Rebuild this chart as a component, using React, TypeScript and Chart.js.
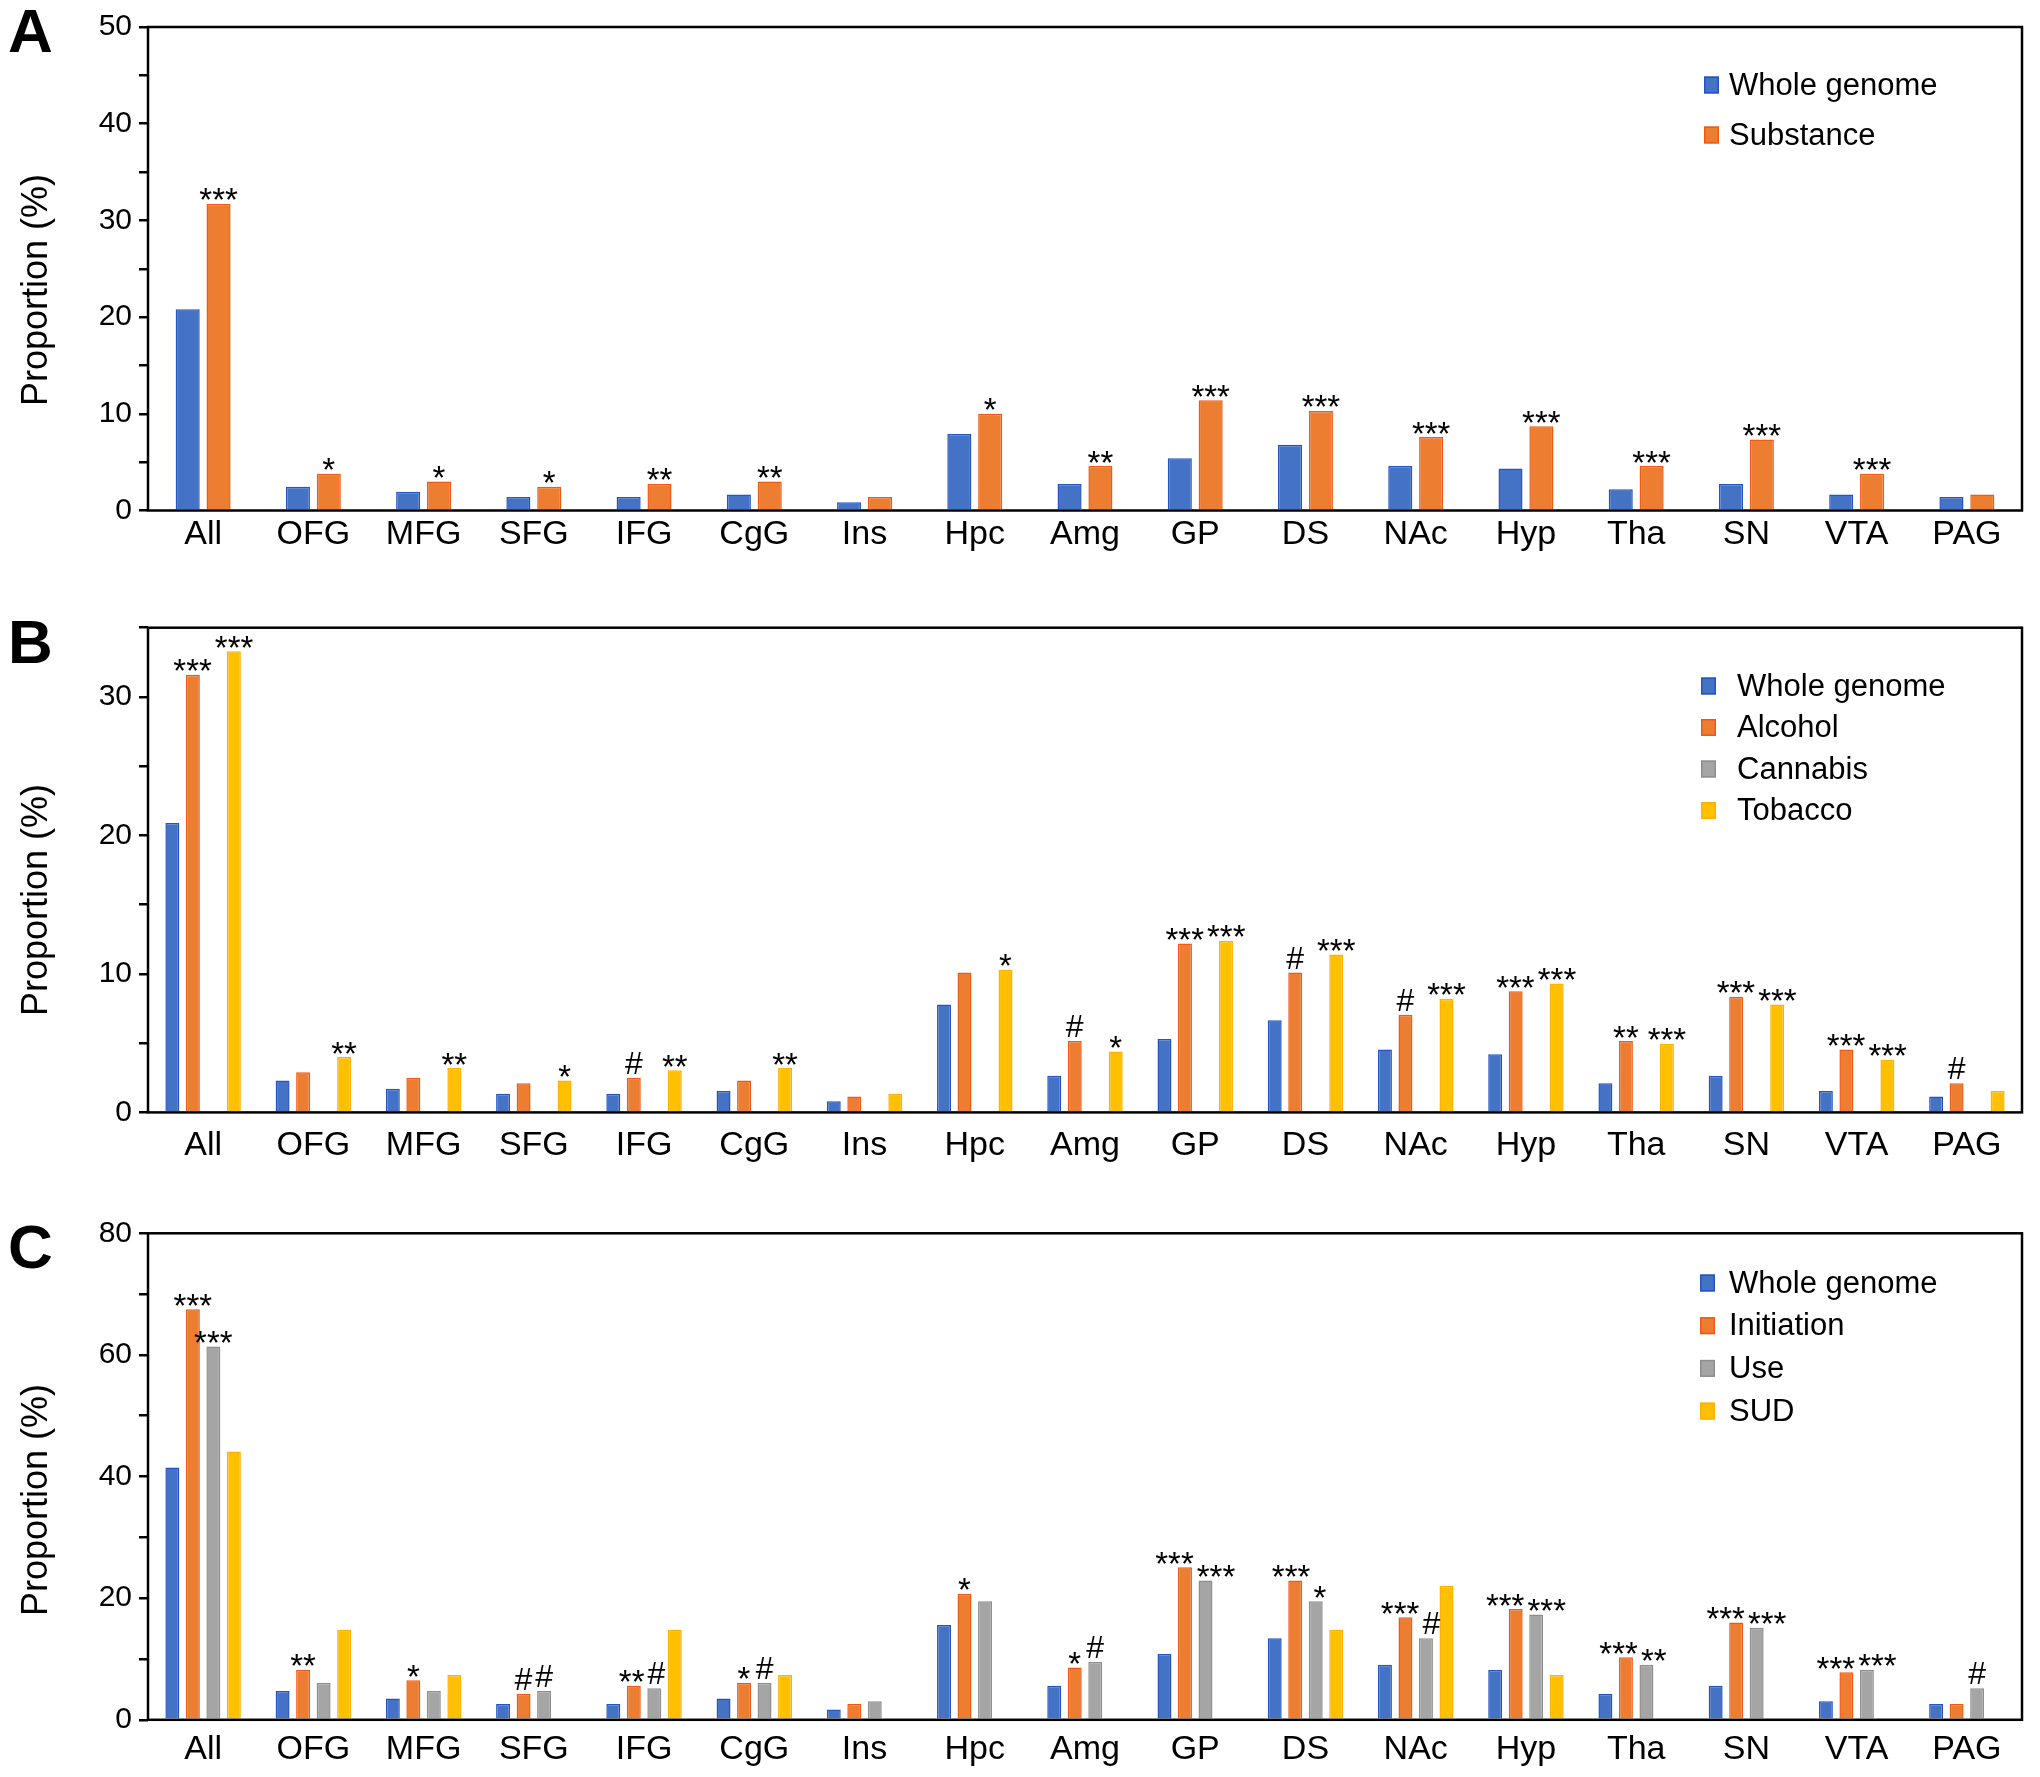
import React, { useEffect, useRef } from 'react';
import { Chart, registerables } from 'chart.js';

Chart.register(...registerables);

const FONT = '"Liberation Sans", Arial, Helvetica, sans-serif';

// ---------- shared categories ----------
const regions = ['All', 'OFG', 'MFG', 'SFG', 'IFG', 'CgG', 'Ins', 'Hpc', 'Amg', 'GP', 'DS', 'NAc', 'Hyp', 'Tha', 'SN', 'VTA', 'PAG'];

// ---------- Panel A ----------
const aWholeGenome = [20.8, 2.45, 1.95, 1.4, 1.4, 1.65, 0.85, 7.9, 2.75, 5.4, 6.8, 4.6, 4.35, 2.2, 2.75, 1.65, 1.4];
const aSubstance = [31.7, 3.8, 3.0, 2.45, 2.75, 3.0, 1.4, 10.0, 4.6, 11.4, 10.3, 7.6, 8.7, 4.6, 7.35, 3.8, 1.65];
const aSubstanceSig = ['***', '*', '*', '*', '**', '**', '', '*', '**', '***', '***', '***', '***', '***', '***', '***', ''];
const aYAxis = { max: 50, step: 5, labelEvery: 10 };

// ---------- Panel B ----------
const bWholeGenome = [20.9, 2.3, 1.7, 1.35, 1.35, 1.55, 0.8, 7.8, 2.65, 5.3, 6.65, 4.55, 4.2, 2.1, 2.65, 1.55, 1.15];
const bAlcohol = [31.6, 2.9, 2.5, 2.1, 2.5, 2.3, 1.15, 10.1, 5.15, 12.2, 10.1, 7.05, 8.75, 5.15, 8.35, 4.55, 2.1];
const bCannabis = [null, null, null, null, null, null, null, null, null, null, null, null, null, null, null, null, null];
const bTobacco = [33.3, 4.0, 3.2, 2.3, 3.05, 3.2, 1.35, 10.3, 4.4, 12.4, 11.4, 8.2, 9.3, 4.95, 7.8, 3.8, 1.55];
const bAlcoholSig = ['***', '', '', '', '#', '', '', '', '#', '***', '#', '#', '***', '**', '***', '***', '#'];
const bTobaccoSig = ['***', '**', '**', '*', '**', '**', '', '*', '*', '***', '***', '***', '***', '***', '***', '***', ''];
const bYAxis = { max: 35, step: 5, labelEvery: 10 };

// ---------- Panel C ----------
const cWholeGenome = [41.5, 4.75, 3.5, 2.6, 2.6, 3.5, 1.7, 15.6, 5.6, 10.8, 13.4, 9.05, 8.2, 4.3, 5.6, 3.05, 2.6];
const cInitiation = [67.5, 8.2, 6.5, 4.3, 5.6, 6.1, 2.6, 20.7, 8.6, 25.1, 22.9, 16.85, 18.2, 10.3, 16.0, 7.8, 2.6];
const cUse = [61.4, 6.1, 4.75, 4.75, 5.2, 6.1, 3.05, 19.5, 9.5, 22.9, 19.5, 13.4, 17.3, 9.05, 15.15, 8.2, 5.2];
const cSUD = [44.1, 14.8, 7.35, null, 14.8, 7.35, null, null, null, null, 14.8, 22.0, 7.35, null, null, null, null];
const cInitiationSig = ['***', '**', '*', '#', '**', '*', '', '*', '*', '***', '***', '***', '***', '***', '***', '***', ''];
const cUseSig = ['***', '', '', '#', '#', '#', '', '', '#', '***', '*', '#', '***', '**', '***', '***', '#'];
const cYAxis = { max: 80, step: 10, labelEvery: 20 };

// ---------- colours ----------
const BLUE = { fill: '#4472C4', stroke: '#2454C4' };
const ORANGE = { fill: '#ED7D31', stroke: '#EE5A12' };
const GRAY = { fill: '#A5A5A5', stroke: '#8E8E8E' };
const YELLOW = { fill: '#FFC000', stroke: '#FFB000' };

type Series = { label: string; data: (number | null)[]; sig?: string[]; color: { fill: string; stroke: string } };
type Panel = {
  letter: string;
  top: number;
  height: number;
  padTop: number;
  xAxisH: number;
  labelPad: number;
  yAxis: { max: number; step: number; labelEvery: number };
  series: Series[];
  catPct: number;
  barPct: number;
  legend: { boxX: number; textX: number; y: number; gap: number };
  letterY: number;
  titleY: number;
};

const panels: Panel[] = [
  {
    letter: 'A', top: 0, height: 590, padTop: 27, xAxisH: 590 - 510.5, labelPad: 4,
    yAxis: aYAxis,
    series: [
      { label: 'Whole genome', data: aWholeGenome, color: BLUE },
      { label: 'Substance', data: aSubstance, sig: aSubstanceSig, color: ORANGE },
    ],
    catPct: 0.56, barPct: 0.78,
    legend: { boxX: 1704, textX: 1729, y: 85, gap: 50 },
    letterY: 52, titleY: 290,
  },
  {
    letter: 'B', top: 590, height: 590, padTop: 37.7, xAxisH: 1180 - 1112.4, labelPad: 13,
    yAxis: bYAxis,
    series: [
      { label: 'Whole genome', data: bWholeGenome, color: BLUE },
      { label: 'Alcohol', data: bAlcohol, sig: bAlcoholSig, color: ORANGE },
      { label: 'Cannabis', data: bCannabis, color: GRAY },
      { label: 'Tobacco', data: bTobacco, sig: bTobaccoSig, color: YELLOW },
    ],
    catPct: 0.744, barPct: 0.68,
    legend: { boxX: 1701, textX: 1737, y: 686 - 590, gap: 41.5 },
    letterY: 663 - 590, titleY: 900 - 590,
  },
  {
    letter: 'C', top: 1180, height: 597, padTop: 53.3, xAxisH: 1777 - 1719.8, labelPad: 9,
    yAxis: cYAxis,
    series: [
      { label: 'Whole genome', data: cWholeGenome, color: BLUE },
      { label: 'Initiation', data: cInitiation, sig: cInitiationSig, color: ORANGE },
      { label: 'Use', data: cUse, sig: cUseSig, color: GRAY },
      { label: 'SUD', data: cSUD, color: YELLOW },
    ],
    catPct: 0.744, barPct: 0.68,
    legend: { boxX: 1700, textX: 1729, y: 1283 - 1180, gap: 42.7 },
    letterY: 1268 - 1180, titleY: 1500 - 1180,
  },
];

function sigFont(t: string) {
  return (t.includes('#') ? '32px ' : '33px ') + FONT;
}

function buildChart(canvas: HTMLCanvasElement, p: Panel) {
  const overlay = {
    id: 'overlay' + p.letter,
    afterDatasetsDraw(chart: any) {
      const { ctx, chartArea: ca } = chart;
      ctx.save();
      // frame
      ctx.strokeStyle = '#000';
      ctx.lineWidth = 2.5;
      ctx.strokeRect(ca.left, ca.top, ca.right - ca.left, ca.bottom - ca.top);

      // significance marks: collect, then push apart labels that would collide
      type Item = { t: string; x: number; y: number; w: number; cat: number };
      const items: Item[] = [];
      p.series.forEach((s, di) => {
        if (!s.sig) return;
        const meta = chart.getDatasetMeta(di);
        s.sig.forEach((t, j) => {
          if (!t) return;
          const el = meta.data[j];
          if (!el) return;
          ctx.font = sigFont(t);
          const w = ctx.measureText(t).width;
          items.push({ t, x: el.x, y: el.y, w, cat: j });
        });
      });
      for (let j = 0; j < regions.length; j++) {
        const inCat = items.filter((it) => it.cat === j).sort((a, b) => a.x - b.x);
        for (let k = 0; k + 1 < inCat.length; k++) {
          const L = inCat[k];
          const R = inCat[k + 1];
          if (Math.abs(L.y - R.y) > 24) continue;
          const overlap = L.x + L.w / 2 - (R.x - R.w / 2) + 3;
          if (overlap > 0) {
            L.x -= overlap / 2;
            R.x += overlap / 2;
          }
        }
      }
      ctx.fillStyle = '#000';
      ctx.textAlign = 'center';
      ctx.textBaseline = 'alphabetic';
      items.forEach((it) => {
        const hash = it.t.includes('#');
        ctx.font = sigFont(it.t);
        ctx.fillText(it.t, it.x, it.y + (hash ? -4 : 7.5));
      });

      // legend
      p.series.forEach((s, i) => {
        const cy = p.legend.y + i * p.legend.gap;
        ctx.fillStyle = s.color.fill;
        ctx.fillRect(p.legend.boxX, cy - 8.5, 15, 17);
        ctx.strokeStyle = s.color.stroke;
        ctx.lineWidth = 1.5;
        ctx.strokeRect(p.legend.boxX + 0.75, cy - 7.75, 13.5, 15.5);
        ctx.fillStyle = '#000';
        ctx.font = '31px ' + FONT;
        ctx.textAlign = 'left';
        ctx.textBaseline = 'middle';
        ctx.fillText(s.label, p.legend.textX, cy + 1);
      });

      // panel letter
      ctx.font = 'bold 62px ' + FONT;
      ctx.textAlign = 'left';
      ctx.textBaseline = 'alphabetic';
      ctx.fillStyle = '#000';
      ctx.fillText(p.letter, 8, p.letterY);

      // y title
      ctx.save();
      ctx.translate(37, p.titleY);
      ctx.rotate(-Math.PI / 2);
      ctx.font = '36px ' + FONT;
      ctx.textAlign = 'center';
      ctx.textBaseline = 'middle';
      ctx.fillText('Proportion (%)', 0, 0);
      ctx.restore();

      ctx.restore();
    },
  };

  return new Chart(canvas, {
    type: 'bar',
    data: {
      labels: regions,
      datasets: p.series.map((s) => ({
        label: s.label,
        data: s.data as any,
        backgroundColor: s.color.fill,
        borderColor: s.color.stroke,
        borderWidth: 1.5,
        categoryPercentage: p.catPct,
        barPercentage: p.barPct,
      })),
    },
    options: {
      responsive: false,
      animation: false,
      devicePixelRatio: 1,
      layout: { padding: { top: p.padTop, right: 18, left: 0, bottom: 0 } },
      plugins: {
        legend: { display: false },
        tooltip: { enabled: false },
        title: { display: false },
      },
      scales: {
        x: {
          grid: { display: false, drawTicks: false },
          border: { display: false },
          ticks: {
            color: '#000',
            font: { family: FONT, size: 34 },
            padding: p.labelPad,
            maxRotation: 0,
            autoSkip: false,
          },
          afterFit: (scale: any) => {
            scale.height = p.xAxisH;
          },
        },
        y: {
          min: 0,
          max: p.yAxis.max,
          border: { display: false },
          grid: {
            drawOnChartArea: false,
            drawTicks: true,
            tickLength: 9,
            tickWidth: 2.5,
            tickColor: '#000',
            color: '#000',
            lineWidth: 2.5,
          },
          ticks: {
            stepSize: p.yAxis.step,
            color: '#000',
            font: { family: FONT, size: 30 },
            padding: 7,
            callback: (v: any) => (Number(v) % p.yAxis.labelEvery === 0 ? String(v) : ''),
          },
          afterFit: (scale: any) => {
            scale.width = 148;
          },
        },
      },
    } as any,
    plugins: [overlay],
  });
}

export default function App() {
  const refA = useRef<HTMLCanvasElement>(null);
  const refB = useRef<HTMLCanvasElement>(null);
  const refC = useRef<HTMLCanvasElement>(null);

  useEffect(() => {
    const refs = [refA, refB, refC];
    const charts = panels.map((p, i) => buildChart(refs[i].current as HTMLCanvasElement, p));
    return () => charts.forEach((c) => c.destroy());
  }, []);

  const refs = [refA, refB, refC];
  return (
    <div style={{ position: 'absolute', left: 0, top: 0, width: 2040, height: 1777, background: '#fff' }}>
      {panels.map((p, i) => (
        <canvas
          key={p.letter}
          ref={refs[i]}
          width={2040}
          height={p.height}
          style={{ position: 'absolute', left: 0, top: p.top, width: 2040, height: p.height, display: 'block' }}
        />
      ))}
    </div>
  );
}
